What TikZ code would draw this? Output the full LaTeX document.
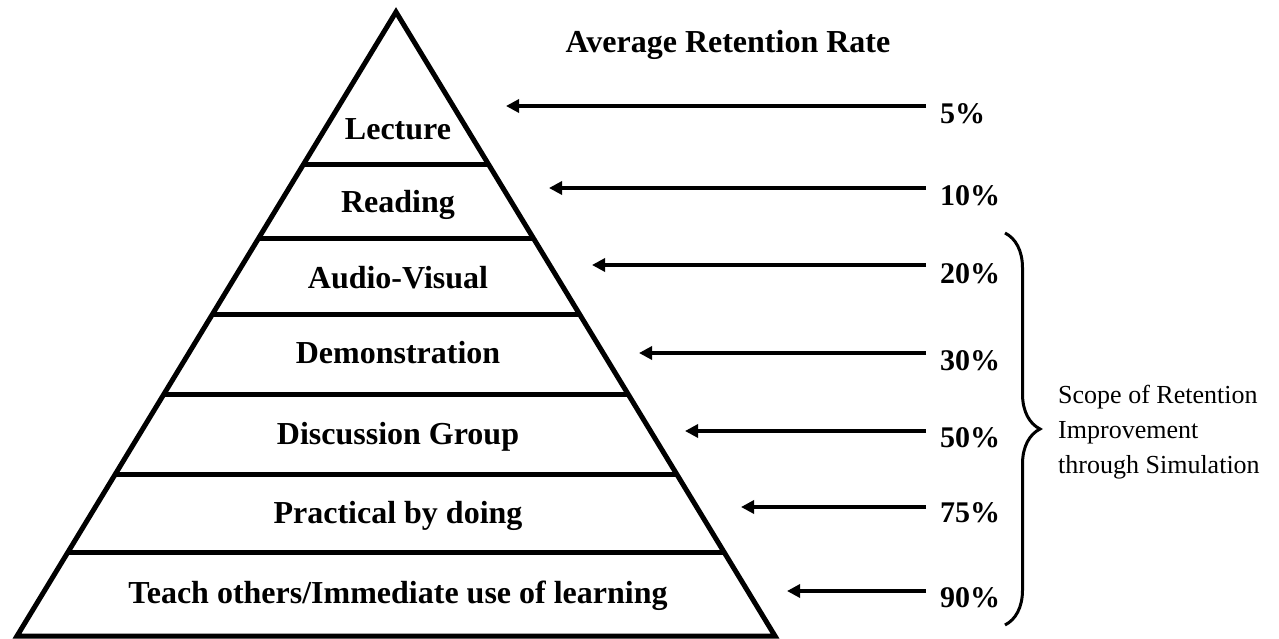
\documentclass[tikz,border=0pt]{standalone}
\usepackage{fontspec}
\setmainfont{Liberation Serif}
\usetikzlibrary{arrows.meta,calc,decorations.pathreplacing}
\begin{document}
\begin{tikzpicture}[x=1pt, y=-1pt]
    % Define styles
    \tikzset{
        layer/.style={inner sep=0pt, anchor=base, font=\fontsize{32}{38}\selectfont\bfseries},
        rate/.style={inner sep=0pt, anchor=base west, font=\fontsize{30}{36}\selectfont\bfseries},
        note/.style={inner sep=0pt, anchor=west, align=left, font=\fontsize{26}{35}\selectfont},
        outline/.style={line width=5pt},
        divider/.style={line width=5pt},
        thickarrow/.style={-{Triangle[length=13pt, width=13pt]}, line width=4pt},
        scopebrace/.style={decorate, decoration={brace, amplitude=35pt}, line width=3pt}
    }
    \useasboundingbox (0,0) rectangle (1279,639);

    % Pyramid
    \coordinate (apex) at (396,12);
    \coordinate (bl) at (17,636);
    \coordinate (br) at (775,636);
    \draw[outline] (apex) -- (br) -- (bl) -- cycle;
    \foreach \y [evaluate=\y as \tpos using (\y-12)/624] in {165,239,315,395,475,553}
        \draw[divider] ($(apex)!\tpos!(bl)$) -- ($(apex)!\tpos!(br)$);

    % Layer labels
    \node[layer] (lecture) at (398,140) {Lecture};
    \node[layer] (reading) at (398,212) {Reading};
    \node[layer] (audio) at (398,288) {Audio-Visual};
    \node[layer] (demo) at (398,363) {Demonstration};
    \node[layer] (discuss) at (398,444) {Discussion Group};
    \node[layer] (practical) at (398,523) {Practical by doing};
    \node[layer] (teach) at (398,603) {Teach others/Immediate use of learning};

    % Header
    \node[layer] (header) at (728,53) {Average Retention Rate};

    % Retention rates
    \node[rate] (r5) at (940,124) {5\%};
    \node[rate] (r10) at (940,206) {10\%};
    \node[rate] (r20) at (940,283) {20\%};
    \node[rate] (r30) at (940,370) {30\%};
    \node[rate] (r50) at (940,447) {50\%};
    \node[rate] (r75) at (940,522) {75\%};
    \node[rate] (r90) at (940,607) {90\%};

    % Arrows from rate to layer
    \coordinate (e5) at (926,106);  \coordinate (t5) at (506,106);
    \coordinate (e10) at (926,188); \coordinate (t10) at (549,188);
    \coordinate (e20) at (926,265); \coordinate (t20) at (592,265);
    \coordinate (e30) at (926,353); \coordinate (t30) at (639,353);
    \coordinate (e50) at (926,431); \coordinate (t50) at (685,431);
    \coordinate (e75) at (926,507); \coordinate (t75) at (741,507);
    \coordinate (e90) at (926,591); \coordinate (t90) at (787,591);
    \draw[thickarrow] (e5) -- (t5);
    \draw[thickarrow] (e10) -- (t10);
    \draw[thickarrow] (e20) -- (t20);
    \draw[thickarrow] (e30) -- (t30);
    \draw[thickarrow] (e50) -- (t50);
    \draw[thickarrow] (e75) -- (t75);
    \draw[thickarrow] (e90) -- (t90);

    % Scope brace
    \coordinate (btop) at (1005,233);
    \coordinate (bbot) at (1005,625);
    \draw[scopebrace] (btop) -- (bbot);
    \node[note] (scope) at (1058,432) {Scope of Retention\\Improvement\\through Simulation};
\end{tikzpicture}
\end{document}
